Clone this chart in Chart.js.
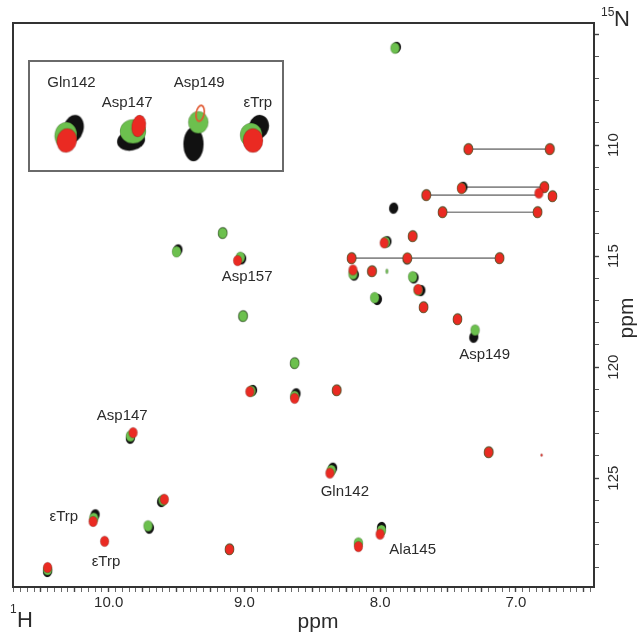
<!DOCTYPE html>
<html>
<head>
<meta charset="utf-8">
<script src="https://cdn.jsdelivr.net/npm/chart.js@4.4.1/dist/chart.umd.min.js"></script>
<style>
  html, body { margin: 0; padding: 0; background: #fff; }
  #wrap { position: relative; width: 638px; height: 635px; }
  #insetBox { position: absolute; left: 28px; top: 60px; width: 252px; height: 108px; border: 2px solid #6a6a6a; background: #fff; }
</style>
</head>
<body>
<div id="wrap">
  <canvas id="spectrum"></canvas>
  <div id="insetBox"><canvas id="inset"></canvas></div>
</div>
<script>
// 1H / 15N peak positions (ppm) for the three spectra, null = no peak drawn
const blackH = [7.88, 7.35, 6.75, 7.39, 6.79, 6.73, 7.66, null, 7.54, 6.84, 7.90, 7.95, 7.76, 8.21, 7.12, 7.80, 8.19, 8.06, 7.75, 7.70, 8.02, 7.68, 7.43, 7.31, 8.32, 9.16, 9.49, 9.02, 9.01, 8.63, 8.94, 8.62, 8.35, 9.84, 9.61, 10.10, 9.70, null, 9.11, 10.45, null, 7.99, 7.20];
const blackN = [105.60, 110.18, 110.18, 111.90, 111.89, 112.30, 112.25, null, 113.02, 113.02, 112.84, 114.35, 114.10, 115.09, 115.09, 115.12, 115.85, 115.68, 115.98, 116.55, 116.95, 117.30, 117.84, 118.65, 121.04, 113.96, 114.72, 115.12, 117.70, 119.82, 121.05, 121.20, 124.55, 123.20, 126.05, 126.65, 127.25, null, 128.20, 129.20, null, 127.22, 123.83];
const greenH = [7.89, 7.35, 6.75, 7.40, 6.79, 6.73, 7.66, null, 7.54, 6.84, null, 7.96, 7.76, 8.21, 7.12, 7.80, 8.20, 8.06, 7.76, 7.72, 8.04, 7.68, 7.43, 7.30, 8.32, 9.16, 9.50, 9.03, 9.01, 8.63, 8.95, 8.63, 8.36, 9.84, 9.60, 10.11, 9.71, null, 9.11, 10.45, 8.16, 7.99, 7.20];
const greenN = [105.63, 110.18, 110.18, 111.94, 111.89, 112.30, 112.25, null, 113.02, 113.02, null, 114.37, 114.10, 115.09, 115.09, 115.09, 115.80, 115.68, 115.93, 116.53, 116.87, 117.30, 117.84, 118.33, 121.04, 113.96, 114.80, 115.05, 117.70, 119.82, 121.08, 121.31, 124.65, 123.10, 125.99, 126.80, 127.15, null, 128.20, 129.12, 127.92, 127.35, 123.83];
const redH = [null, 7.35, 6.75, 7.40, 6.79, 6.73, 7.66, 6.83, 7.54, 6.84, null, 7.97, 7.76, 8.21, 7.12, 7.80, 8.20, 8.06, null, 7.72, null, 7.68, 7.43, null, 8.32, null, null, 9.05, null, null, 8.96, 8.63, 8.37, 9.82, 9.59, 10.115, null, 10.03, 9.11, 10.45, 8.16, 8.00, 7.20];
const redN = [null, 110.18, 110.18, 111.94, 111.89, 112.30, 112.25, 112.16, 113.02, 113.02, null, 114.40, 114.10, 115.09, 115.09, 115.09, 115.62, 115.68, null, 116.50, null, 117.30, 117.84, null, 121.04, null, null, 115.20, null, null, 121.10, 121.40, 124.77, 122.95, 125.95, 126.95, null, 127.84, 128.20, 129.02, 128.08, 127.52, 123.83];

// weak peaks (tiny contours)
const weakGreenH = [7.95];
const weakGreenN = [115.68];
const weakRedH = [6.81];
const weakRedN = [123.96];

// side-chain NH2 pairs joined by a line
const pairN = [110.18, 111.89, 112.25, 113.02, 115.09];
const pairH1 = [7.35, 7.40, 7.66, 7.54, 8.21];
const pairH2 = [6.75, 6.79, 6.83, 6.84, 7.12];

const peakLabels = ['Asp157', 'Asp149', 'Asp147', 'Gln142', 'εTrp', 'εTrp', 'Ala145'];
const labelH = [8.98, 7.23, 9.90, 8.26, 10.33, 10.02, 7.76];
const labelN = [115.95, 119.46, 122.21, 125.63, 126.76, 128.78, 128.24];

const xTickValues = [10, 9, 8, 7];
const xTickLabels = ['10.0', '9.0', '8.0', '7.0'];
const yTickValues = [110, 115, 120, 125];
const yTickLabels = ['110', '115', '120', '125'];

// inset: enlarged peaks, in inset units
const insetNames = ['Gln142', 'Asp147', 'Asp149', 'εTrp'];
const insetNameX = [38, 96, 171, 232];
const insetNameY = [18, 39, 18, 39];
const insetBlackX = [40, 100, 165, 233];
const insetBlackY = [68, 81, 85, 66];
const insetGreenX = [32, 102, 170, 225];
const insetGreenY = [75, 71, 61, 75];
const insetRedX = [33, 108, 172, 227];
const insetRedY = [81, 65, 51, 81];

const BLACK = '#111111';
const GREEN = '#6cc04e';
const RED = '#ea2a22';
const FONT = "'Liberation Sans', Arial, sans-serif";

function makeBlob(fill, rx, ry, angle, hollow) {
  const s = Math.ceil(2 * Math.max(rx, ry) + 4);
  const c = document.createElement('canvas');
  c.width = s; c.height = s;
  const g = c.getContext('2d');
  g.translate(s / 2, s / 2);
  g.rotate(angle * Math.PI / 180);
  g.beginPath();
  g.ellipse(0, 0, rx, ry, 0, 0, Math.PI * 2);
  if (hollow) {
    g.lineWidth = 1.6; g.strokeStyle = fill; g.stroke();
  } else {
    g.fillStyle = fill; g.fill();
    g.lineWidth = 1; g.strokeStyle = 'rgba(0,0,0,0.18)'; g.stroke();
  }
  return c;
}

function toPoints(hs, ns) {
  return hs.map((h, i) => (h === null ? null : { x: h, y: ns[i] })).filter(p => p);
}

function tickLabel(values, labels) {
  return (v) => {
    const i = values.findIndex(t => Math.abs(t - v) < 1e-6);
    return i >= 0 ? labels[i] : '';
  };
}

const pairDatasets = pairN.map((n, i) => ({
  data: [{ x: pairH1[i], y: n }, { x: pairH2[i], y: n }],
  showLine: true,
  borderColor: '#8a8a8a',
  borderWidth: 1.6,
  pointRadius: 0,
  order: 5
}));

const peakOverlay = {
  id: 'peakOverlay',
  afterDraw(chart) {
    const { ctx, chartArea, scales: { x, y } } = chart;
    ctx.save();
    ctx.strokeStyle = '#333';
    ctx.lineWidth = 2;
    ctx.strokeRect(chartArea.left, chartArea.top, chartArea.right - chartArea.left, chartArea.bottom - chartArea.top);

    ctx.fillStyle = '#2b2b2b';
    ctx.font = '15px ' + FONT;
    ctx.textAlign = 'center';
    ctx.textBaseline = 'middle';
    peakLabels.forEach((t, i) => {
      ctx.fillText(t, x.getPixelForValue(labelH[i]), y.getPixelForValue(labelN[i]));
    });

    // rotated y tick labels
    yTickValues.forEach((v, i) => {
      ctx.save();
      ctx.translate(614, y.getPixelForValue(v));
      ctx.rotate(-Math.PI / 2);
      ctx.fillText(yTickLabels[i], 0, 0);
      ctx.restore();
    });

    // axis titles
    ctx.font = '21px ' + FONT;
    ctx.fillText('ppm', 318, 622);
    ctx.save();
    ctx.translate(627, 318);
    ctx.rotate(-Math.PI / 2);
    ctx.fillText('ppm', 0, 0);
    ctx.restore();
    ctx.textAlign = 'left';
    ctx.font = '22px ' + FONT;
    ctx.fillText('H', 17, 621);
    ctx.fillText('N', 614, 20);
    ctx.font = '12px ' + FONT;
    ctx.fillText('1', 10, 610);
    ctx.fillText('15', 601, 13);
    ctx.restore();
  }
};

new Chart(document.getElementById('spectrum'), {
  type: 'scatter',
  data: {
    datasets: [
      ...pairDatasets,
      { data: toPoints(blackH, blackN), pointStyle: makeBlob(BLACK, 4.5, 5.5, 10), order: 3 },
      { data: toPoints(greenH, greenN), pointStyle: makeBlob(GREEN, 4.5, 5.5, 0), order: 2 },
      { data: toPoints(redH, redN), pointStyle: makeBlob(RED, 4.3, 5.3, 0), order: 1 },
      { data: toPoints(weakGreenH, weakGreenN), pointStyle: makeBlob(GREEN, 1.2, 2.5, 0), order: 1 },
      { data: toPoints(weakRedH, weakRedN), pointStyle: makeBlob(RED, 1, 1.2, 0), order: 1 }
    ]
  },
  options: {
    responsive: true,
    maintainAspectRatio: false,
    animation: false,
    events: [],
    layout: { padding: { left: 13, top: 23, right: 0, bottom: 0 } },
    plugins: { legend: { display: false }, tooltip: { enabled: false } },
    scales: {
      x: {
        type: 'linear',
        reverse: true,
        min: 6.424,
        max: 10.705,
        afterFit: (s) => { s.height = 48; },
        border: { color: '#333', width: 2 },
        grid: {
          drawOnChartArea: false,
          tickLength: 5,
          tickColor: '#444',
          tickWidth: (c) => (Math.abs(c.tick.value * 4 - Math.round(c.tick.value * 4)) < 1e-6 ? 1.4 : 0.8)
        },
        ticks: {
          stepSize: 0.05,
          includeBounds: false,
          autoSkip: false,
          maxRotation: 0,
          padding: 2,
          color: '#2b2b2b',
          font: { family: FONT, size: 15 },
          callback: tickLabel(xTickValues, xTickLabels)
        }
      },
      y: {
        type: 'linear',
        position: 'right',
        reverse: true,
        min: 104.5,
        max: 129.9,
        afterFit: (s) => { s.width = 44; },
        border: { color: '#333', width: 2 },
        grid: {
          drawOnChartArea: false,
          tickLength: 5,
          tickColor: '#444',
          tickWidth: (c) => (c.tick.value % 5 === 0 ? 1.4 : 0.9)
        },
        ticks: { stepSize: 1, includeBounds: false, display: false }
      }
    }
  },
  plugins: [peakOverlay]
});

// inset chart
const insetBlackBlobs = [makeBlob(BLACK, 10, 14, 15), makeBlob(BLACK, 14, 10, -10), makeBlob(BLACK, 10, 17, 0), makeBlob(BLACK, 10, 12, 15)];
const insetGreenBlobs = [makeBlob(GREEN, 11, 13, 10), makeBlob(GREEN, 13, 12, 0), makeBlob(GREEN, 10, 11, 0), makeBlob(GREEN, 11, 12, 0)];
const insetRedBlobs = [makeBlob(RED, 10, 12, 10), makeBlob(RED, 7, 11, 10), makeBlob('#e0562e', 4, 8, 10, true), makeBlob(RED, 10, 12, 0)];

const insetLabels = {
  id: 'insetLabels',
  afterDraw(chart) {
    const { ctx, scales: { x, y } } = chart;
    ctx.save();
    ctx.fillStyle = '#2b2b2b';
    ctx.font = '15px ' + FONT;
    ctx.textAlign = 'center';
    ctx.textBaseline = 'middle';
    insetNames.forEach((t, i) => {
      ctx.fillText(t, x.getPixelForValue(insetNameX[i]), y.getPixelForValue(insetNameY[i]));
    });
    ctx.restore();
  }
};

new Chart(document.getElementById('inset'), {
  type: 'scatter',
  data: {
    datasets: [
      { data: insetBlackX.map((v, i) => ({ x: v, y: insetBlackY[i] })), pointStyle: insetBlackBlobs, order: 3 },
      { data: insetGreenX.map((v, i) => ({ x: v, y: insetGreenY[i] })), pointStyle: insetGreenBlobs, order: 2 },
      { data: insetRedX.map((v, i) => ({ x: v, y: insetRedY[i] })), pointStyle: insetRedBlobs, order: 1 }
    ]
  },
  options: {
    responsive: true,
    maintainAspectRatio: false,
    animation: false,
    events: [],
    layout: { padding: 0 },
    plugins: { legend: { display: false }, tooltip: { enabled: false } },
    scales: {
      x: { type: 'linear', min: 0, max: 252, display: false },
      y: { type: 'linear', min: 0, max: 108, reverse: true, display: false }
    }
  },
  plugins: [insetLabels]
});
</script>
</body>
</html>
